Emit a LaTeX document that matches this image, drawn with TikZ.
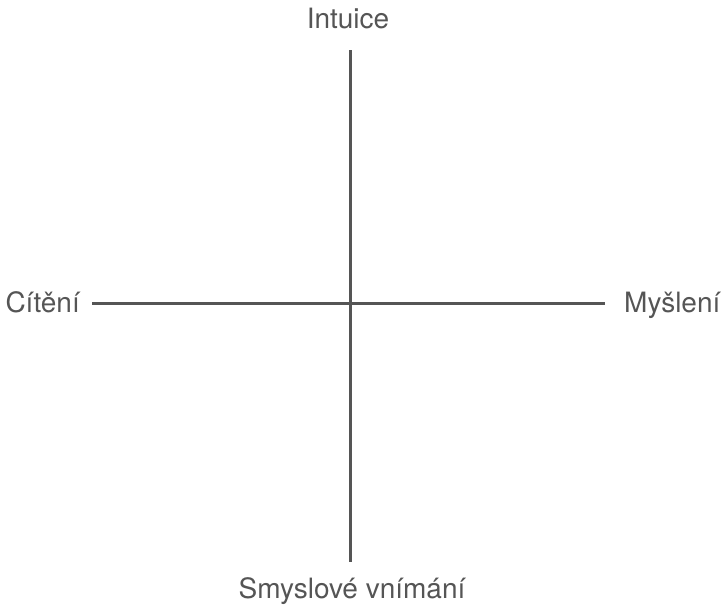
\documentclass[tikz,border=0pt]{standalone}
\usepackage{fontspec}
\setmainfont{TeX Gyre Heros}
\usetikzlibrary{positioning}
\definecolor{osa}{HTML}{555555}
\tikzset{
  popis/.style={text=osa, inner sep=0pt, font=\fontsize{28}{32}\selectfont},
  osy/.style={draw=osa, line width=3pt}
}
\begin{document}
\begin{tikzpicture}[x=1pt,y=-1pt]

\useasboundingbox (0,0) rectangle (725,606);

\node[popis, anchor=base] (intuice) at (348,28) {Intuice};
\node[popis, anchor=base] (smysl) at (352,598) {Smyslové vnímání};
\node[popis, anchor=base east] (citeni) at (80,312) {Cítění};
\node[popis, anchor=base west] (mysleni) at (624,312) {Myšlení};

\coordinate (nahore) at (350,50);
\coordinate (dole) at (350,562);
\coordinate (vlevo) at (92,303);
\coordinate (vpravo) at (605,303);

\draw[osy] (nahore) -- (dole);
\draw[osy] (vlevo) -- (vpravo);
\end{tikzpicture}
\end{document}
